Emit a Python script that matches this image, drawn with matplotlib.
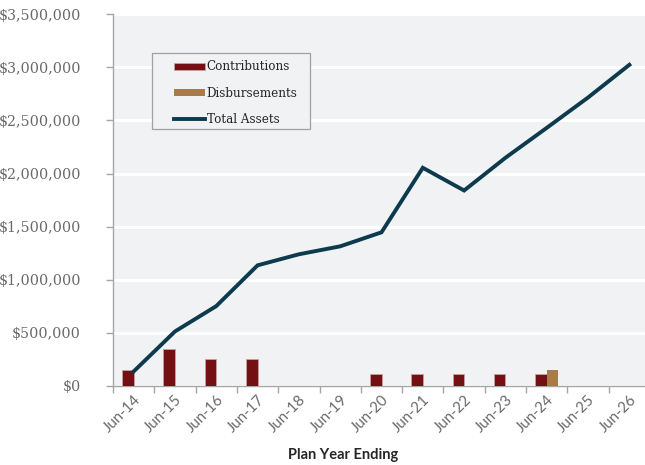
import matplotlib
matplotlib.use("Agg")
import matplotlib.pyplot as plt
import numpy as np
from matplotlib.ticker import FuncFormatter, MultipleLocator, FixedLocator
from matplotlib.patches import Rectangle

categories = ["Jun-14", "Jun-15", "Jun-16", "Jun-17", "Jun-18", "Jun-19", "Jun-20",
              "Jun-21", "Jun-22", "Jun-23", "Jun-24", "Jun-25", "Jun-26"]
contributions = [150000, 350000, 250000, 250000, 0, 0, 110000, 110000, 110000, 110000, 110000, 0, 0]
disbursements = [0, 0, 0, 0, 0, 0, 0, 0, 0, 0, 150000, 0, 0]
total_assets = [135000, 512000, 751000, 1135000, 1239000, 1314000, 1446000,
                2054000, 1840000, 2148000, 2430000, 2716000, 3024000]

W, H = 645, 465
fig = plt.figure(figsize=(W / 100, H / 100), dpi=100)
left, right, top, bottom = 113, 650, 14.3, 385.8
ax = fig.add_axes([left / W, 1 - bottom / H, (right - left) / W, (bottom - top) / H])
ax.set_facecolor("#F1F2F4")

x = np.arange(len(categories))
bw = 0.28
b1 = ax.bar(x - bw / 2, contributions, width=bw, color="#741013", edgecolor="#C9A0A2",
            linewidth=0.6, label="Contributions", zorder=3)
b2 = ax.bar(x + bw / 2, disbursements, width=bw, color="#A97B48", edgecolor="#A97B48",
            linewidth=0.0, label="Disbursements", zorder=3)
l1, = ax.plot(x, total_assets, color="#0D3A4C", linewidth=2.8, label="Total Assets",
              zorder=4, solid_joinstyle="miter")

ax.set_xlim(-0.5, 12.5)
ax.set_ylim(0, 3500000)
ax.yaxis.set_major_locator(MultipleLocator(500000))
ax.yaxis.set_major_formatter(FuncFormatter(lambda v, p: "${:,.0f}".format(v)))
ax.grid(axis="y", color="white", linewidth=2.2, zorder=1)
ax.set_axisbelow(True)

for s in ["top", "right"]:
    ax.spines[s].set_visible(False)
for s in ["left", "bottom"]:
    ax.spines[s].set_color("#A6A6A6")
    ax.spines[s].set_linewidth(1.0)

ax.tick_params(axis="y", colors="#A6A6A6", length=5, width=1, pad=18)
for lab in ax.get_yticklabels():
    lab.set_fontfamily("DejaVu Serif")
    lab.set_fontsize(10.3)
    lab.set_color("#6A6A6A")

ax.xaxis.set_major_locator(FixedLocator(np.arange(-0.5, 13, 1.0)))
ax.xaxis.set_minor_locator(FixedLocator(x))
ax.tick_params(axis="x", which="major", colors="#A6A6A6", length=5, width=1, labelbottom=False)
ax.tick_params(axis="x", which="minor", length=0, pad=5, labelcolor="#6A6A6A")
ax.set_xticks(x, minor=True)
ax.set_xticklabels(categories, minor=True, rotation=45, ha="right", va="top",
                   rotation_mode="anchor", fontfamily="Lato", fontsize=10.8)

fig.text(343 / W, 1 - 455 / H, "Plan Year Ending", ha="center", va="center",
         fontfamily="Lato", fontweight="bold", fontsize=10.5, color="#262626")

# legend frame drawn manually (wider horizontal padding than vertical)
fx0, fy0, fx1, fy1 = 151.7, 53.3, 309.5, 129.3
frame = Rectangle((fx0 / W, 1 - fy1 / H), (fx1 - fx0) / W, (fy1 - fy0) / H,
                  transform=fig.transFigure, facecolor="#F1F2F4", edgecolor="#A0A0A0",
                  linewidth=0.9, zorder=5, clip_on=False)
ax.add_patch(frame)

leg = ax.legend([b1, b2, l1], ["Contributions", "Disbursements", "Total Assets"],
                loc="upper left", bbox_to_anchor=(174 / W, 1 - 60.5 / H),
                bbox_transform=fig.transFigure,
                frameon=False, prop={"family": "DejaVu Serif", "size": 8.6},
                labelspacing=1.1, handlelength=2.6, handleheight=0.55,
                handletextpad=0.15, borderpad=0, borderaxespad=0)
leg.set_zorder(6)
for t in leg.get_texts():
    t.set_color("#262626")

fig.savefig("out.png", dpi=100, facecolor="white")
